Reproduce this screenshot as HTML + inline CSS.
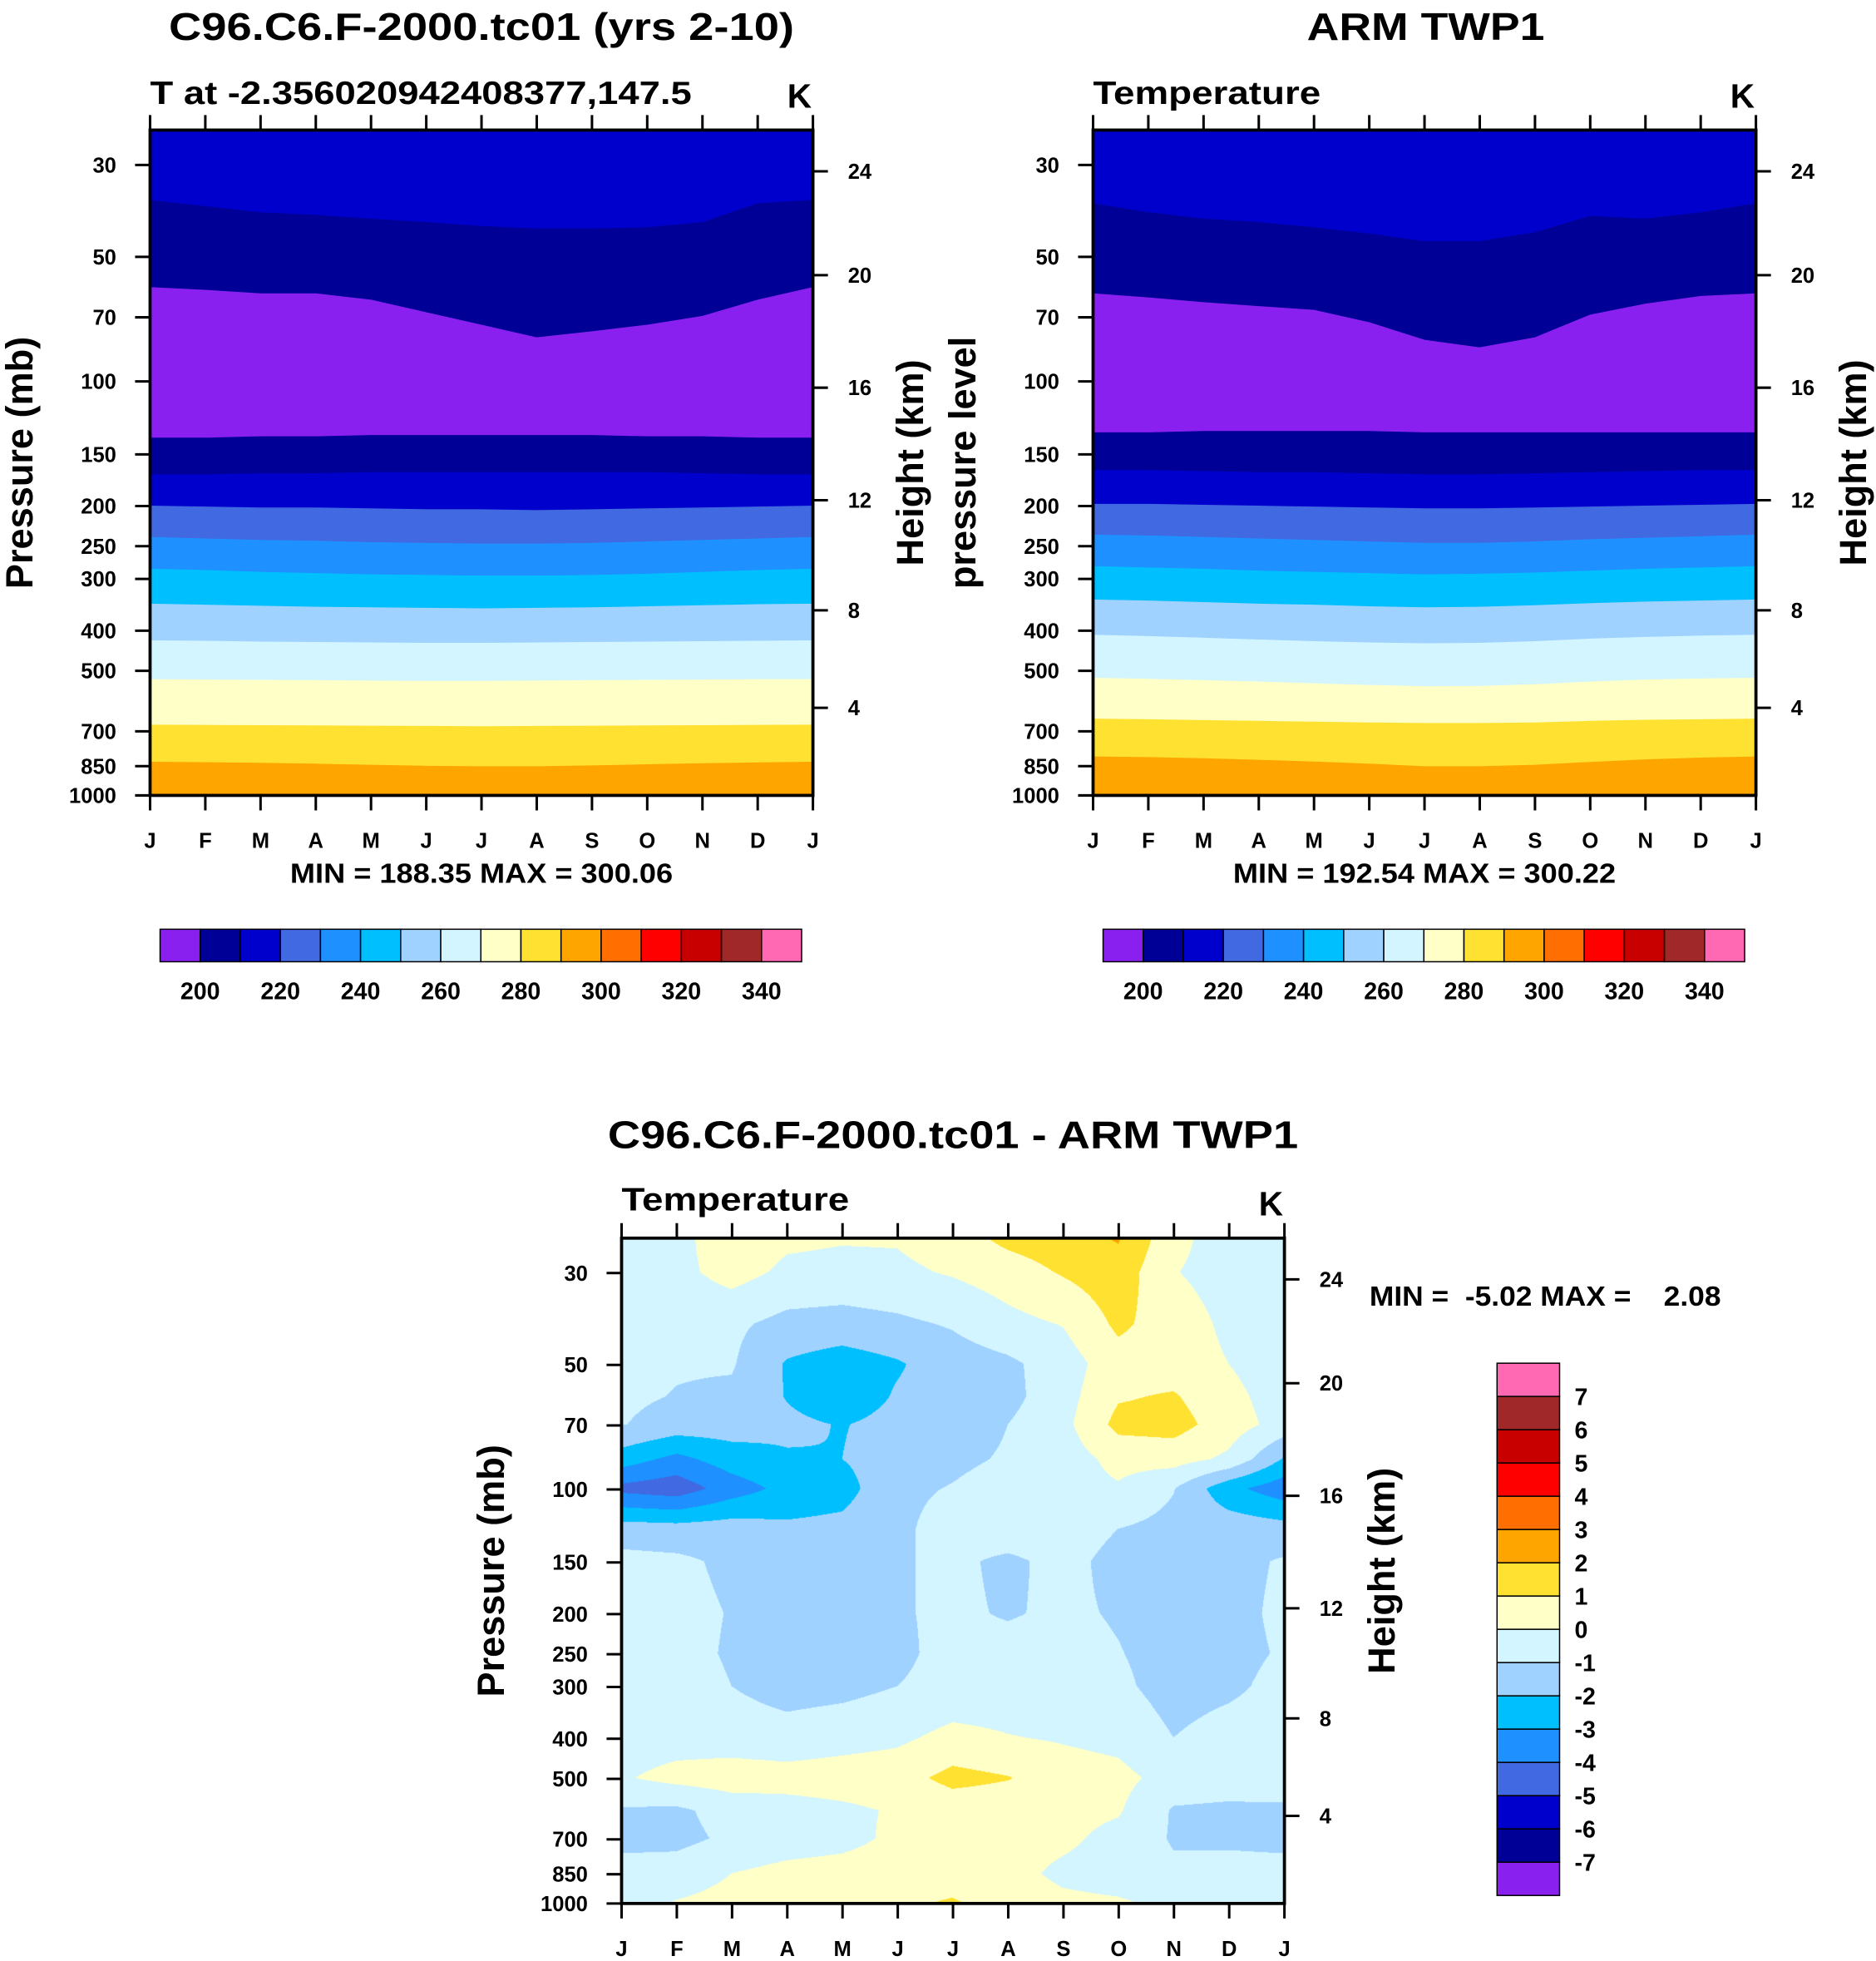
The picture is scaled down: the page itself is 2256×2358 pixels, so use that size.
<!DOCTYPE html>
<html><head><meta charset="utf-8"><style>
html,body{margin:0;padding:0;background:#fff}
#wrap{position:relative;width:2256px;height:2358px;overflow:hidden;background:#fff}
#diffCanvas{position:absolute;left:747px;top:1489px}
svg{position:absolute;left:0;top:0}
text{font-family:"Liberation Sans",Arial,sans-serif;font-weight:bold;fill:#000}
</style></head><body>
<div id="wrap">
<canvas id="diffCanvas"></canvas>
<svg id="svg" width="2256" height="2358" viewBox="0 0 1500 1568" preserveAspectRatio="none" xmlns="http://www.w3.org/2000/svg"></svg>
</div>
<script>
const months = ["J","F","M","A","M","J","J","A","S","O","N","D","J"];
const pressureTicks = [30,50,70,100,150,200,250,300,400,500,700,850,1000];
const heightTicks = [24,20,16,12,8,4];
const heightTickOffsets = [-168,-85,5,95,183,261];
const tempColors = ["#8a20f0","#000096","#0000cd","#4169e1","#1e90ff","#00bfff","#a0d2ff","#d2f5ff","#ffffc8","#ffe132","#ffa500","#ff6e00","#ff0000","#c80000","#a02828","#ff69b4"];
const tempBarLabels = [200,220,240,260,280,300,320,340];
const diffBarLabels = [7,6,5,4,3,2,1,0,-1,-2,-3,-4,-5,-6,-7];

const modelB210a = [36.5,37.8,39.1,39.7,40.5,41.3,42.2,42.8,42.8,42.5,41.3,37.2,36.5];
const modelB200a = [59.3,60.2,61.4,61.4,63.6,68.2,73.1,78.4,75.8,73.1,69.6,63.6,59.3];
const modelB200b = [137,137,136,136,135,135,135,135,135,136,136,137,137];
const modelB210b = [168,168,167,167,166,166,166,166,166,166,167,168,168];
const modelB220 = [200,201,202,202,203,204,204,205,204,203,202,201,200];
const modelB230 = [238,240,242,243,245,246,247,247,246,244,242,240,238];
const modelB240 = [284,286,289,291,293,294,295,295,294,292,289,286,284];
const modelB250 = [345,347,349,351,352,353,354,353,352,350,348,346,345];
const modelB260 = [423,424,426,427,428,429,429,428,427,426,425,424,423];
const modelB270 = [525,526,527,528,529,530,530,529,528,527,526,525,525];
const modelB280 = [676,677,678,679,680,681,682,681,680,679,678,677,676];
const modelB290 = [831,833,836,840,845,850,852,852,848,843,838,834,831];
const armB210a = [37.2,39.1,40.5,41.3,42.5,44.0,45.9,45.9,43.7,39.9,40.5,39.1,37.2];
const armB200a = [61.4,62.8,64.5,65.9,67.3,72.1,79.5,82.9,78.4,69.1,65.0,62.3,61.4];
const armB200b = [133,133,132,132,132,132,133,133,133,133,133,133,133];
const armB210b = [164,164,165,166,166,167,168,168,167,166,165,164,164];
const armB220 = [198,198,199,200,201,202,203,203,202,201,200,199,198];
const armB230 = [235,236,238,240,242,244,246,246,244,241,239,237,235];
const armB240 = [280,282,284,287,289,291,293,292,290,287,284,282,280];
const armB250 = [337,339,342,345,347,350,352,351,348,344,341,339,337];
const armB260 = [410,413,417,421,425,428,430,429,425,419,415,412,410];
const armB270 = [521,524,528,532,537,542,546,545,540,532,526,523,521];
const armB280 = [654,656,659,662,665,668,670,670,668,662,658,656,654];
const armB290 = [807,810,815,822,830,840,852,852,845,832,820,812,807];
const bandColorIdx = [2,1,0,1,2,3,4,5,6,7,8,9,10];

const diffPressures = [24.7,30,40,50,60,70,85,100,125,150,200,250,300,400,500,600,700,850,1000];
const diffValues = [
 [-0.5,-0.3,0.6,0.2,0.1,0.1,0.5,1.3,1.6,2.1,0.3,-0.5,-0.5],
 [-0.5,-0.3,0.4,-0.2,-0.3,-0.2,0.1,0.5,1.1,1.6,0.05,-0.4,-0.5],
 [-0.6,-0.8,-0.8,-1.3,-1.4,-1.2,-0.9,-0.3,0.05,1.2,0.5,-0.2,-0.5],
 [-0.7,-0.9,-0.9,-2.1,-2.5,-2.1,-1.5,-1.2,-0.5,0.6,0.5,0.0,-0.6],
 [-0.8,-1.05,-1.2,-2.05,-2.6,-1.9,-1.6,-1.3,-0.4,0.9,1.1,0.3,-0.5],
 [-0.95,-1.4,-1.5,-1.8,-2.05,-1.7,-1.5,-1.0,-0.3,1.3,1.4,0.5,-0.4],
 [-2.5,-3.3,-2.5,-2.1,-2.0,-1.5,-1.2,-0.9,-0.5,0.3,0.4,-0.2,-2.1],
 [-4.3,-4.6,-3.5,-2.7,-2.4,-1.2,-0.95,-0.6,-0.4,-0.1,-0.95,-2.7,-3.6],
 [-1.5,-1.6,-1.5,-1.8,-1.7,-1.2,-0.6,-0.4,-0.5,-1.0,-1.3,-1.4,-1.6],
 [-0.7,-0.8,-1.2,-1.5,-1.4,-1.1,-0.8,-1.2,-0.7,-1.3,-1.4,-1.3,-0.9],
 [-0.6,-0.7,-1.05,-1.4,-1.4,-1.1,-0.8,-1.1,-0.8,-1.1,-1.4,-1.3,-0.8],
 [-0.6,-0.7,-1.1,-1.5,-1.4,-1.2,-0.7,-0.6,-0.6,-0.95,-1.4,-1.3,-0.9],
 [-0.5,-0.6,-1.0,-1.4,-1.3,-1.0,-0.7,-0.6,-0.6,-0.8,-1.4,-1.2,-0.7],
 [-0.5,-0.4,-0.5,-0.6,-0.4,-0.2,0.3,0.05,-0.1,-0.3,-1.0,-0.6,-0.5],
 [-0.1,0.3,0.5,0.4,0.5,0.6,1.3,1.05,0.5,0.3,-0.4,-0.5,-0.1],
 [-1.1,-1.2,-0.6,-0.4,-0.2,0.1,0.4,0.4,0.3,0.1,-1.1,-1.2,-1.3],
 [-1.3,-1.3,-0.8,-0.5,-0.3,0.2,0.4,0.4,0.2,-0.3,-1.1,-1.2,-1.3],
 [-0.6,-0.5,0.0,0.3,0.4,0.5,0.5,0.3,-0.2,-0.4,-0.8,-0.6,-0.6],
 [-0.4,0.05,0.3,0.3,0.5,0.8,1.1,0.5,0.2,0.1,-0.2,-0.3,-0.4]
];

const NS="http://www.w3.org/2000/svg";
const svg=document.getElementById('svg');
function mk(tag,attrs,parent){const e=document.createElementNS(NS,tag);for(const k in attrs)e.setAttribute(k,attrs[k]);(parent||svg).appendChild(e);return e;}
function txt(s,x,y,size,anchor,parent,extra){const t=mk('text',Object.assign({x:x,y:y,'font-size':size,'text-anchor':anchor||'start'},extra||{}),parent);t.textContent=s;return t;}

const PTOP=100*Math.pow(10,-201/331);
function makeAxes(left,top){
  const W=530,H=532;
  return {left,top,W,H,
    x:m=>left+m*W/12,
    y:p=>{const base=top+201;let v=base+331*Math.log10(p/100);return Math.max(top,Math.min(top+H,v));}};
}

function drawFrame(ax,g,heightTitle,leftTitle){
  for(let i=0;i<13;i++){
    const x=ax.x(i);
    const tt=mk('line',{x1:x,y1:ax.top,x2:x,y2:ax.top-12,stroke:'#000','stroke-width':2},g);
    
    const tb=mk('line',{x1:x,y1:ax.top+ax.H,x2:x,y2:ax.top+ax.H+12,stroke:'#000','stroke-width':2},g);
    
    const l=txt(months[i],x,ax.top+ax.H+42,17,'middle',g);
    
  }
  pressureTicks.forEach(p=>{
    const y=ax.y(p);
    const t=mk('line',{x1:ax.left,y1:y,x2:ax.left-12,y2:y,stroke:'#000','stroke-width':2},g);
    
    const l=txt(String(p),ax.left-27,y+6,17,'end',g);
    
  });
  heightTicks.forEach((h,i)=>{
    const y=ax.top+201+heightTickOffsets[i];
    const t=mk('line',{x1:ax.left+ax.W,y1:y,x2:ax.left+ax.W+12,y2:y,stroke:'#000','stroke-width':2},g);
    
    const l=txt(String(h),ax.left+ax.W+28,y+6,17,'start',g);
    
  });
  const f=mk('rect',{x:ax.left,y:ax.top,width:ax.W,height:ax.H,fill:'none',stroke:'#000','stroke-width':2.5},g);
  
  const cy=ax.top+266;
  const ht=txt('Height (km)',0,0,30,'middle',g,{transform:`translate(${ax.left+ax.W+88},${cy}) rotate(-90)`});
  
  const lt=txt(leftTitle,0,0,30,'middle',g,{transform:`translate(${ax.left-94},${cy}) rotate(-90)`});
  
}

function drawBands(ax,bounds,g){
  const all=[new Array(13).fill(PTOP)].concat(bounds).concat([new Array(13).fill(1000)]);
  for(let k=0;k<all.length-1;k++){
    const upper=all[k],lower=all[k+1];
    let pts=[];
    for(let i=0;i<13;i++)pts.push(ax.x(i)+','+ax.y(upper[i]));
    for(let i=12;i>=0;i--)pts.push(ax.x(i)+','+ax.y(lower[i]));
    const color=tempColors[k<bandColorIdx.length?bandColorIdx[k]:10];
    const pg=mk('polygon',{points:pts.join(' '),fill:color,stroke:color,'stroke-width':0.6},g);
    
  }
}

function hColorbar(x0,y0,g){
  const bw=32.06;
  tempColors.forEach((c,i)=>{
    const r=mk('rect',{x:x0+i*bw,y:y0,width:bw,height:26,fill:c,stroke:'#000','stroke-width':1},g);
    
  });
  tempBarLabels.forEach((v,i)=>{
    const l=txt(String(v),x0+bw*(1+2*i),y0+56,19,'middle',g);
    
  });
}

const g1=mk('g',{});
const ax1=makeAxes(120,104);
drawBands(ax1,[modelB210a,modelB200a,modelB200b,modelB210b,modelB220,modelB230,modelB240,modelB250,modelB260,modelB270,modelB280,modelB290],g1);
drawFrame(ax1,g1,'Height (km)','Pressure (mb)');
let t;
t=txt('C96.C6.F-2000.tc01 (yrs 2-10)',385,32,31,'middle',g1,{textLength:500,lengthAdjust:'spacingAndGlyphs'});
t=txt('T at -2.356020942408377,147.5',120,83,26,'start',g1,{textLength:433,lengthAdjust:'spacingAndGlyphs'});
t=txt('K',649,86,27,'end',g1);
t=txt('MIN = 188.35 MAX = 300.06',385,706,22,'middle',g1,{textLength:306,lengthAdjust:'spacingAndGlyphs'});
hColorbar(128,743,g1);

const g2=mk('g',{});
const ax2=makeAxes(874,104);
drawBands(ax2,[armB210a,armB200a,armB200b,armB210b,armB220,armB230,armB240,armB250,armB260,armB270,armB280,armB290],g2);
drawFrame(ax2,g2,'Height (km)','pressure level');
t=txt('ARM TWP1',1140,32,31,'middle',g2,{textLength:190,lengthAdjust:'spacingAndGlyphs'});
t=txt('Temperature',874,83,26,'start',g2,{textLength:182,lengthAdjust:'spacingAndGlyphs'});
t=txt('K',1403,86,27,'end',g2);
t=txt('MIN = 192.54 MAX = 300.22',1139,706,22,'middle',g2,{textLength:306,lengthAdjust:'spacingAndGlyphs'});
hColorbar(882,743,g2);

const g3=mk('g',{});
const ax3=makeAxes(497,990);
drawFrame(ax3,g3,'Height (km)','Pressure (mb)');
t=txt('C96.C6.F-2000.tc01 - ARM TWP1',762,918,31,'middle',g3,{textLength:552,lengthAdjust:'spacingAndGlyphs'});
t=txt('Temperature',497,968,26,'start',g3,{textLength:182,lengthAdjust:'spacingAndGlyphs'});
t=txt('K',1026,972,27,'end',g3);
t=txt('MIN =  -5.02 MAX =    2.08',1095,1044,22,'start',g3,{textLength:281,lengthAdjust:'spacingAndGlyphs','xml:space':'preserve'});t.style.whiteSpace='pre';
const diffColors=tempColors.slice().reverse();
const vbh=26.6;
diffColors.forEach((c,i)=>{
  const r=mk('rect',{x:1197,y:1090+i*vbh,width:50,height:vbh,fill:c,stroke:'#000','stroke-width':1},g3);
  
});
diffBarLabels.forEach((v,i)=>{
  const l=txt(String(v),1259,1090+vbh*(i+1)+7,19,'start',g3);
  
});

(function(){
  const S=2256/1500;
  const cv=document.getElementById('diffCanvas');
  const W=Math.round(530*S),H=Math.round(532*S);
  cv.width=W;cv.height=H;cv.style.width=W+'px';cv.style.height=H+'px';
  cv.style.left=Math.round(497*S)+'px';cv.style.top=Math.round(990*S)+'px';
  const ctx=cv.getContext('2d');
  const img=ctx.createImageData(W,H);
  const rgb=diffColors.map(h=>[parseInt(h.substr(1,2),16),parseInt(h.substr(3,2),16),parseInt(h.substr(5,2),16)]);
  const lp=diffPressures.map(p=>Math.log10(p));
  for(let py=0;py<H;py++){
    const yd=990+(py+0.5)/S;
    const l=Math.log10(100)+(yd-1190)/331;
    let r=0;while(r<lp.length-2&&lp[r+1]<l)r++;
    let fy=(l-lp[r])/(lp[r+1]-lp[r]);fy=Math.max(0,Math.min(1,fy));
    for(let px=0;px<W;px++){
      const m=(px+0.5)/W*12;let c=Math.min(11,Math.floor(m));const fx=m-c;
      const v=(1-fy)*((1-fx)*diffValues[r][c]+fx*diffValues[r][c+1])+fy*((1-fx)*diffValues[r+1][c]+fx*diffValues[r+1][c+1]);
      let idx=Math.floor(v)+8;
      idx=Math.max(0,Math.min(15,idx));
      const col=rgb[15-idx];
      const o=(py*W+px)*4;img.data[o]=col[0];img.data[o+1]=col[1];img.data[o+2]=col[2];img.data[o+3]=255;
    }
  }
  ctx.putImageData(img,0,0);
})();
</script>
</body></html>
